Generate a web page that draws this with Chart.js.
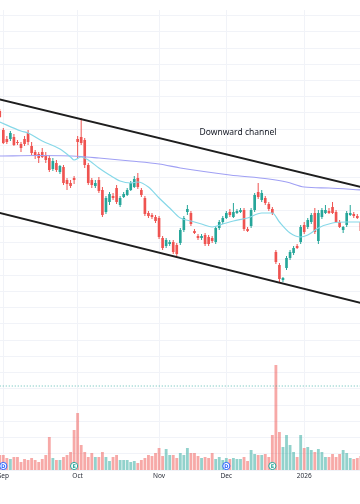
<!DOCTYPE html>
<html>
<head>
    <title>Downward channel</title>
    <script src="https://cdn.jsdelivr.net/npm/chart.js"></script>
    <style>
        body { margin: 0; background: #fff; }
        canvas { display: block; }
    </style>
</head>
<body>
    <canvas id="chart" width="360" height="504"></canvas>

    <script>
        // candle index of the first value in each array (Aug 29), Sep 2 = 0
        const firstIdx = -1;

        const monthIdx = [0, 21, 44, 63, 85];
        const monthLabels = ['Sep', 'Oct', 'Nov', 'Dec', '2026'];

        const open = [
            97.8, 94.0, 92.2, 92.2, 92.6, 91.6, 91.2, 92.2, 93.4, 90.8,
            89.6, 89.2, 89.6, 89.0, 88.4, 86.2, 87.4, 85.6, 86.6, 84.0,
            83.4, 84.4, 92.2, 92.6, 92.0, 87.0, 84.0, 82.8, 84.0, 82.0,
            77.6, 79.6, 80.8, 82.4, 79.0, 80.6, 81.0, 82.0, 82.6, 84.4,
            82.0, 80.4, 77.4, 77.0, 76.6, 76.4, 72.4, 70.8, 71.2, 71.6,
            71.0, 71.4, 74.0, 77.6, 77.4, 73.8, 72.8, 72.4, 73.0, 72.6,
            72.4, 71.6, 74.4, 75.6, 76.4, 77.6, 76.6, 77.4, 77.6, 78.0,
            74.2, 74.8, 78.0, 81.6, 80.0, 80.4, 79.2, 78.2, 69.6, 67.0,
            64.0, 66.4, 68.4, 69.4, 70.8, 71.6, 75.0, 74.6, 75.6, 77.4,
            71.8, 76.6, 77.4, 77.8, 78.6, 77.6, 75.6, 74.0, 75.0, 77.0,
            77.2, 76.8, 75.6
        ];
        const high = [
            98.2, 94.4, 92.8, 93.8, 93.2, 92.0, 91.6, 92.8, 94.0, 91.6,
            90.0, 89.6, 90.4, 89.6, 89.0, 88.4, 88.0, 87.0, 87.0, 84.4,
            84.0, 84.8, 92.8, 96.4, 92.4, 87.4, 84.4, 84.0, 84.6, 82.6,
            80.8, 81.6, 81.4, 83.0, 80.8, 81.6, 82.4, 83.8, 84.8, 85.4,
            82.4, 80.8, 77.8, 77.4, 77.0, 76.8, 72.8, 72.4, 72.0, 72.0,
            71.4, 74.4, 76.8, 79.0, 77.8, 74.2, 73.2, 73.2, 73.4, 73.0,
            72.8, 74.8, 76.0, 76.8, 77.8, 78.2, 79.4, 78.2, 78.4, 78.4,
            74.6, 78.4, 81.4, 83.4, 82.0, 80.8, 79.6, 78.6, 70.0, 67.4,
            64.6, 68.8, 70.0, 70.8, 71.2, 75.0, 75.6, 76.4, 77.4, 78.4,
            78.0, 78.4, 79.0, 78.4, 79.6, 78.0, 76.0, 74.8, 77.8, 79.0,
            77.6, 77.2, 76.0
        ];
        const low = [
            96.4, 91.2, 91.2, 91.8, 90.8, 91.0, 89.6, 90.8, 91.0, 89.0,
            88.2, 87.4, 88.4, 87.4, 85.6, 85.8, 85.6, 85.2, 83.0, 82.0,
            82.4, 83.2, 88.4, 91.0, 86.4, 83.0, 82.4, 82.4, 81.4, 76.6,
            77.2, 79.0, 80.0, 79.2, 78.6, 80.4, 80.8, 81.8, 82.4, 82.2,
            80.6, 76.8, 76.4, 76.2, 75.4, 72.2, 70.0, 70.4, 70.8, 69.2,
            68.8, 71.0, 73.6, 77.0, 74.8, 73.2, 72.0, 72.0, 70.8, 70.8,
            71.4, 71.2, 74.0, 75.2, 76.2, 76.6, 76.4, 77.2, 77.4, 73.8,
            73.6, 74.4, 77.6, 80.2, 79.6, 79.0, 77.8, 77.0, 67.2, 63.4,
            63.6, 66.0, 68.0, 69.0, 70.2, 71.2, 73.2, 74.2, 75.2, 73.2,
            71.2, 76.2, 77.2, 77.2, 77.2, 75.4, 74.4, 73.4, 74.6, 76.8,
            76.4, 76.2, 73.4
        ];
        const close = [
            96.6, 91.4, 91.6, 93.4, 91.0, 91.4, 90.4, 91.2, 91.6, 89.4,
            88.8, 88.4, 88.6, 88.0, 86.0, 87.8, 86.0, 86.8, 83.4, 83.2,
            82.8, 84.0, 91.6, 91.4, 87.0, 83.4, 83.0, 83.4, 81.8, 77.0,
            80.4, 81.2, 80.4, 79.6, 80.4, 81.2, 82.0, 83.4, 84.2, 82.6,
            81.0, 77.2, 76.8, 76.6, 75.8, 72.6, 70.4, 72.0, 71.6, 69.6,
            69.2, 74.0, 76.4, 78.2, 75.2, 73.4, 72.4, 72.8, 71.2, 71.2,
            71.8, 74.4, 75.6, 76.4, 77.4, 77.0, 77.6, 77.8, 78.0, 74.2,
            73.8, 78.0, 81.0, 80.6, 81.4, 79.4, 78.2, 77.4, 67.6, 64.2,
            64.4, 68.4, 69.6, 70.4, 70.4, 74.6, 73.6, 76.0, 77.0, 73.6,
            77.4, 78.0, 78.0, 77.4, 77.4, 75.6, 74.6, 74.6, 77.4, 77.4,
            76.8, 76.4, 73.8
        ];
        // volume in millions
        const volume = [
            1.5, 1.5, 1.2, 1.1, 1.3, 1.3, 0.8, 1.1, 1.0, 1.2,
            1.0, 0.8, 1.1, 1.5, 3.3, 1.2, 1.0, 1.0, 1.3, 1.5,
            1.8, 4.0, 5.7, 2.5, 1.8, 1.3, 1.7, 1.3, 1.3, 1.8,
            1.3, 0.9, 1.3, 1.5, 1.0, 1.0, 1.0, 0.8, 0.9, 0.7,
            1.0, 1.2, 1.5, 1.4, 1.7, 2.2, 1.4, 2.1, 1.5, 1.5,
            1.2, 1.7, 1.5, 2.2, 1.7, 1.7, 1.4, 1.2, 1.3, 1.2,
            1.7, 1.1, 1.3, 1.0, 1.2, 1.1, 1.2, 1.1, 1.1, 1.3,
            0.9, 2.0, 1.6, 1.5, 1.5, 1.6, 1.3, 3.5, 10.5, 3.8,
            2.3, 3.5, 2.5, 1.8, 1.3, 3.5, 2.2, 2.3, 2.0, 1.8,
            2.1, 1.8, 1.3, 1.3, 1.6, 1.3, 1.6, 2.0, 1.7, 1.2,
            1.1, 1.2, 1.4
        ];
        const volumeLine = 8.4;

        // moving averages
        const maFastIdx = [-1, 5, 7, 11, 16, 19, 20, 22, 24, 27, 30, 33, 36, 38, 41, 44, 47, 50, 53, 56,
                           59, 62, 65, 69, 73, 76, 78, 81, 84, 86, 89, 93, 97, 101];
        const maFast = [95.6, 93.8, 93.4, 91.8, 90.2, 88.6, 88.0, 88.6, 88.0, 86.4, 85.0, 83.8, 83.4, 83.6, 82.6, 80.4, 78.4, 76.4, 75.8, 75.2,
                        74.6, 75.2, 75.8, 76.4, 77.4, 77.4, 75.6, 73.4, 72.6, 73.0, 74.4, 75.4, 75.6, 75.6];
        const maSlowIdx = [-1, 10, 22, 27, 36, 44, 50, 64, 75, 80, 85, 92, 101];
        const maSlow = [88.8, 88.9, 88.7, 88.4, 87.8, 87.2, 86.4, 85.0, 84.2, 83.6, 82.6, 82.4, 82.0];

        // channel
        const chanIdx = [-1, 101];
        const chanUpper = [100.1, 82.6];
        const chanLower = [77.4, 59.4];
        const noteText = 'Downward channel';
        const noteIdx = 66.3;
        const notePrice = 93.5;

        // dividend / earnings markers
        const markerIdx = [0, 20, 63, 76];
        const markerText = ['D', 'E', 'D', 'E'];
        const markerLevel = [0.4, 0.4, 0.4, 0.4];

        const UP = '#26a69a';
        const DOWN = '#ef5350';
        const BLUE = '#2962ff';

        const xs = open.map((v, i) => i + firstIdx);
        const isUp = open.map((v, i) => close[i] >= v);
        const candleColors = isUp.map(u => u ? UP : DOWN);
        const volColors = isUp.map(u => u ? 'rgba(38,166,154,0.5)' : 'rgba(239,83,80,0.5)');
        const markerColors = markerText.map(t => t === 'D' ? BLUE : UP);

        const pts = (idx, vals) => idx.map((x, k) => ({ x: x, y: vals[k] }));

        const textPlugin = {
            id: 'texts',
            afterDatasetsDraw(chart) {
                const ctx = chart.ctx;
                const sx = chart.scales.x, sy = chart.scales.y;
                ctx.save();
                ctx.textAlign = 'center';
                ctx.textBaseline = 'middle';
                ctx.fillStyle = '#131722';
                ctx.font = '8.5px "Noto Sans"';
                ctx.fillText(noteText, sx.getPixelForValue(noteIdx), sy.getPixelForValue(notePrice));
                const meta = chart.getDatasetMeta(chart.data.datasets.length - 1);
                ctx.font = 'bold 5px "DejaVu Sans"';
                meta.data.forEach((p, k) => {
                    ctx.fillStyle = markerColors[k];
                    ctx.fillText(markerText[k], p.x, p.y + 0.3);
                });
                ctx.restore();
            }
        };

        const ctx = document.getElementById('chart').getContext('2d');
        new Chart(ctx, {
            type: 'bar',
            data: {
                datasets: [
                    {
                        label: 'Volume',
                        yAxisID: 'v',
                        data: xs.map((x, i) => ({ x: x, y: volume[i] })),
                        backgroundColor: volColors,
                        grouped: false,
                        barPercentage: 0.8,
                        categoryPercentage: 1,
                        inflateAmount: 0,
                        order: 6
                    },
                    {
                        type: 'line',
                        label: 'Volume line',
                        yAxisID: 'v',
                        data: pts(chanIdx, [volumeLine, volumeLine]),
                        borderColor: 'rgba(38,166,154,0.75)',
                        borderWidth: 1,
                        borderDash: [1, 2],
                        pointRadius: 0,
                        order: 5
                    },
                    {
                        label: 'Wicks',
                        yAxisID: 'y',
                        data: xs.map((x, i) => ({ x: x, y: [low[i], high[i]] })),
                        backgroundColor: candleColors,
                        grouped: false,
                        barThickness: 1,
                        inflateAmount: 0,
                        order: 4
                    },
                    {
                        label: 'Bodies',
                        yAxisID: 'y',
                        data: xs.map((x, i) => ({ x: x, y: [open[i], close[i]] })),
                        backgroundColor: candleColors,
                        grouped: false,
                        barPercentage: 0.75,
                        categoryPercentage: 1,
                        minBarLength: 1,
                        inflateAmount: 0,
                        order: 3
                    },
                    {
                        type: 'line',
                        label: 'MA fast',
                        yAxisID: 'y',
                        data: pts(maFastIdx, maFast),
                        borderColor: '#86d8e8',
                        borderWidth: 1.2,
                        pointRadius: 0,
                        cubicInterpolationMode: 'monotone',
                        order: 2
                    },
                    {
                        type: 'line',
                        label: 'MA slow',
                        yAxisID: 'y',
                        data: pts(maSlowIdx, maSlow),
                        borderColor: '#a0a0f4',
                        borderWidth: 1.2,
                        pointRadius: 0,
                        cubicInterpolationMode: 'monotone',
                        order: 2
                    },
                    {
                        type: 'line',
                        label: 'Channel top',
                        yAxisID: 'y',
                        data: pts(chanIdx, chanUpper),
                        borderColor: '#1e1e1e',
                        borderWidth: 2,
                        pointRadius: 0,
                        order: 1
                    },
                    {
                        type: 'line',
                        label: 'Channel bottom',
                        yAxisID: 'y',
                        data: pts(chanIdx, chanLower),
                        borderColor: '#1e1e1e',
                        borderWidth: 2,
                        pointRadius: 0,
                        order: 1
                    },
                    {
                        type: 'line',
                        label: 'Events',
                        yAxisID: 'v',
                        data: pts(markerIdx, markerLevel),
                        showLine: false,
                        pointRadius: 3.6,
                        pointBackgroundColor: '#ffffff',
                        pointBorderColor: markerColors,
                        pointBorderWidth: 1,
                        order: 0
                    }
                ]
            },
            options: {
                responsive: false,
                devicePixelRatio: 1,
                animation: false,
                layout: { autoPadding: false, padding: { top: 10, left: 0, right: 0, bottom: 0 } },
                plugins: { legend: { display: false }, tooltip: { enabled: false } },
                scales: {
                    x: {
                        type: 'linear',
                        min: -0.932,
                        max: 100.76,
                        offset: false,
                        grid: { color: '#f1f3f8', offset: false, drawTicks: false },
                        border: { display: false },
                        ticks: {
                            autoSkip: false,
                            maxRotation: 0,
                            padding: 2,
                            color: '#2a2e39',
                            font: { family: 'Noto Sans', size: 6.5 },
                            callback: (v) => monthLabels[monthIdx.indexOf(v)]
                        },
                        afterBuildTicks: (s) => { s.ticks = monthIdx.map(v => ({ value: v })); },
                        afterFit: (s) => { s.height = 34; s.paddingLeft = 0; s.paddingRight = 0; }
                    },
                    g: {
                        position: 'left',
                        min: 0,
                        max: 460 / 16.23,
                        grid: { color: '#f1f3f8', drawTicks: false },
                        border: { display: false },
                        ticks: { display: false, stepSize: 1, includeBounds: false },
                        afterFit: (s) => { s.width = 0; }
                    },
                    y: { display: false, min: 26, max: 118 },
                    v: { display: false, min: 0, max: 46 }
                }
            },
            plugins: [textPlugin]
        });
    </script>
</body>
</html>
